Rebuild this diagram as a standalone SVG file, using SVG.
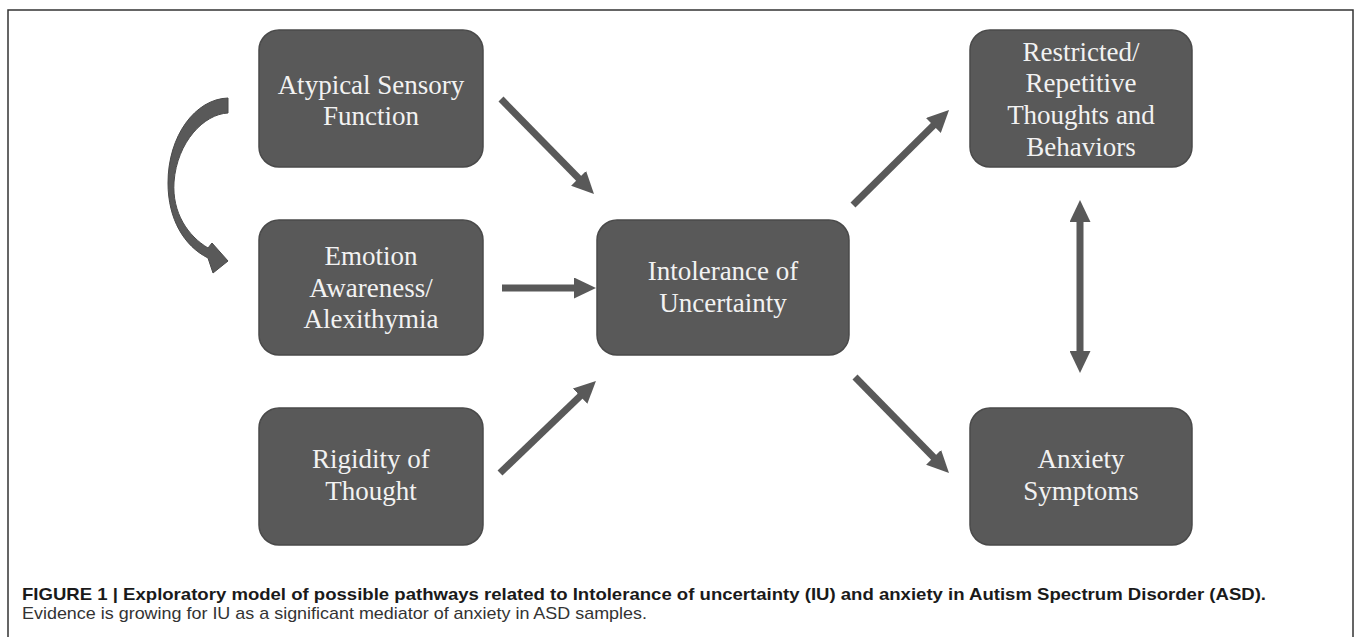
<svg xmlns="http://www.w3.org/2000/svg" width="1356" height="637" viewBox="0 0 1356 637">
<style>
.box{fill:#595959;stroke:#4a4a4a;stroke-width:1.5}
.lbl{font-family:"Liberation Serif","Times New Roman",serif;font-size:27px;fill:#f2f2f2;text-anchor:middle}
.arr{stroke:#595959;stroke-width:7;fill:none}
.cap1{font-family:"Liberation Sans",Arial,sans-serif;font-size:17px;font-weight:bold;fill:#1a1a1a}
.cap2{font-family:"Liberation Sans",Arial,sans-serif;font-size:17px;fill:#333}
</style>
<defs>
<marker id="ah" viewBox="0 0 22 21" markerWidth="22" markerHeight="21" refX="1" refY="10.5" orient="auto-start-reverse" markerUnits="userSpaceOnUse">
<path d="M0,0 L22,10.5 L0,21 Z" fill="#595959"/>
</marker>
</defs>
<rect x="8" y="10" width="1345" height="700" fill="none" stroke="#333" stroke-width="1.5"/>
<g id="n-sensory">
<rect class="box" x="259" y="30" width="224" height="137" rx="20"/>
<text class="lbl" x="371" y="94">Atypical Sensory</text>
<text class="lbl" x="371" y="125">Function</text>
</g>
<g id="n-emotion">
<rect class="box" x="259" y="220" width="224" height="135" rx="20"/>
<text class="lbl" x="371" y="265">Emotion</text>
<text class="lbl" x="371" y="297">Awareness/</text>
<text class="lbl" x="371" y="328">Alexithymia</text>
</g>
<g id="n-rigidity">
<rect class="box" x="259" y="408" width="224" height="137" rx="20"/>
<text class="lbl" x="371" y="468">Rigidity of</text>
<text class="lbl" x="371" y="500">Thought</text>
</g>
<g id="n-iu">
<rect class="box" x="597" y="220" width="252" height="135" rx="20"/>
<text class="lbl" x="723" y="280">Intolerance of</text>
<text class="lbl" x="723" y="312">Uncertainty</text>
</g>
<g id="n-rrb">
<rect class="box" x="970" y="30" width="222" height="137" rx="20"/>
<text class="lbl" x="1081" y="61">Restricted/</text>
<text class="lbl" x="1081" y="92">Repetitive</text>
<text class="lbl" x="1081" y="124">Thoughts and</text>
<text class="lbl" x="1081" y="156">Behaviors</text>
</g>
<g id="n-anxiety">
<rect class="box" x="970" y="408" width="222" height="137" rx="20"/>
<text class="lbl" x="1081" y="468">Anxiety</text>
<text class="lbl" x="1081" y="500">Symptoms</text>
</g>
<g id="connectors">
<line class="arr" x1="501" y1="99" x2="579.3" y2="179" marker-end="url(#ah)"/>
<line class="arr" x1="502" y1="288" x2="575" y2="288" marker-end="url(#ah)"/>
<line class="arr" x1="500" y1="473" x2="580.8" y2="395.5" marker-end="url(#ah)"/>
<line class="arr" x1="853" y1="205" x2="934.1" y2="124.8" marker-end="url(#ah)"/>
<line class="arr" x1="855" y1="377" x2="934.3" y2="458" marker-end="url(#ah)"/>
<line class="arr" x1="1080" y1="221" x2="1080" y2="352" marker-start="url(#ah)" marker-end="url(#ah)"/>
<path d="M228,98 L228,113 C204,114 177,142 174,182 C172,213 188,236 208,248 L212,243 L228,261 L213,273 L208,258 C184,246 168,219 168,183 C168,136 195,99 228,98 Z" fill="#595959" stroke="#4a4a4a" stroke-width="1"/>
</g>
<text class="cap1" x="22" y="600" textLength="1244" lengthAdjust="spacingAndGlyphs">FIGURE 1 | Exploratory model of possible pathways related to Intolerance of uncertainty (IU) and anxiety in Autism Spectrum Disorder (ASD).</text>
<text class="cap2" x="22" y="619" textLength="625" lengthAdjust="spacingAndGlyphs">Evidence is growing for IU as a significant mediator of anxiety in ASD samples.</text>
</svg>
